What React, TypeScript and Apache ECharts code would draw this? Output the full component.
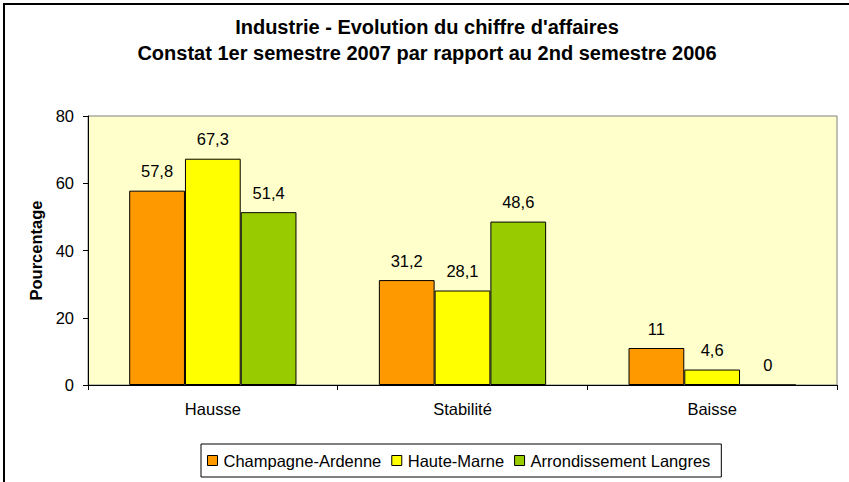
import React, { useEffect, useRef } from "react";
import * as echarts from "echarts";

const categories = ["Hausse", "Stabilité", "Baisse"];
const seriesNames = ["Champagne-Ardenne", "Haute-Marne", "Arrondissement Langres"];
const champagneArdenne = [57.8, 31.2, 11];
const hauteMarne = [67.3, 28.1, 4.6];
const arrondissementLangres = [51.4, 48.6, 0];
const yTicks = { min: 0, max: 80, interval: 20 };
const titleLines = [
  "Industrie - Evolution du chiffre d'affaires",
  "Constat 1er semestre 2007 par rapport au 2nd semestre 2006",
];
const colors = ["#FF9900", "#FFFF00", "#99CC00"];

const FONT = "'Liberation Sans', Arial, sans-serif";

export default function App() {
  const ref = useRef<HTMLDivElement>(null);
  useEffect(() => {
    if (!ref.current) return;
    const chart = echarts.init(ref.current, undefined, { renderer: "svg" });
    const dataSets = [champagneArdenne, hauteMarne, arrondissementLangres];
    chart.setOption({
      animation: false,
      backgroundColor: "#ffffff",
      textStyle: { fontFamily: FONT },
      graphic: [
        {
          type: "rect",
          z: -10,
          shape: { x: 4, y: 4, width: 900, height: 600 },
          style: { fill: "none", stroke: "#000", lineWidth: 2 },
        },
      ],
      title: {
        text: titleLines.join("\n"),
        left: 427,
        top: 14,
        padding: 0,
        textAlign: "center",
        textStyle: {
          fontFamily: FONT,
          fontSize: 20,
          fontWeight: "bold",
          lineHeight: 26,
          color: "#000",
        },
      },
      legend: {
        data: seriesNames,
        left: 201,
        top: 444,
        orient: "horizontal",
        padding: [8, 11, 8, 6],
        itemWidth: 10,
        itemHeight: 10,
        itemGap: 10,
        icon: "rect",
        borderColor: "#000",
        borderWidth: 1,
        backgroundColor: "#fff",
        textStyle: { fontFamily: FONT, fontSize: 16.5, color: "#000", padding: [0, 0, 0, 1] },
        itemStyle: { borderColor: "#000", borderWidth: 1 },
      },
      grid: {
        left: 88,
        right: 12,
        top: 116,
        bottom: 97,
        show: true,
        backgroundColor: "#FFFFCC",
        borderColor: "#808080",
        borderWidth: 1,
      },
      xAxis: {
        type: "category",
        data: categories,
        axisLine: { lineStyle: { color: "#000", width: 1 } },
        axisTick: { show: true, alignWithLabel: false, length: 5, lineStyle: { color: "#000" } },
        axisLabel: { fontFamily: FONT, fontSize: 16.5, color: "#000", margin: 15 },
        splitLine: { show: false },
      },
      yAxis: {
        type: "value",
        min: yTicks.min,
        max: yTicks.max,
        interval: yTicks.interval,
        name: "Pourcentage",
        nameLocation: "middle",
        nameRotate: 90,
        nameGap: 42,
        nameTextStyle: { fontFamily: FONT, fontSize: 16.5, fontWeight: "bold", color: "#000" },
        axisLine: { show: true, lineStyle: { color: "#000", width: 1 } },
        axisTick: { show: true, length: 5, lineStyle: { color: "#000" } },
        axisLabel: { fontFamily: FONT, fontSize: 16.5, color: "#000", margin: 14 },
        splitLine: { show: false },
      },
      series: seriesNames.map((name, i) => ({
        name,
        type: "bar",
        data: dataSets[i],
        barGap: "0%",
        barCategoryGap: "33%",
        itemStyle: { color: colors[i], borderColor: "#000", borderWidth: 1 },
        label: {
          show: true,
          position: "top",
          distance: 11,
          fontFamily: FONT,
          fontSize: 16.5,
          color: "#000",
          formatter: (p: any) => String(p.value).replace(".", ","),
        },
      })),
    });
    return () => chart.dispose();
  }, []);
  return (
    <div
      ref={ref}
      style={{ position: "fixed", left: 0, top: 0, width: 849, height: 482, background: "#fff" }}
    />
  );
}
